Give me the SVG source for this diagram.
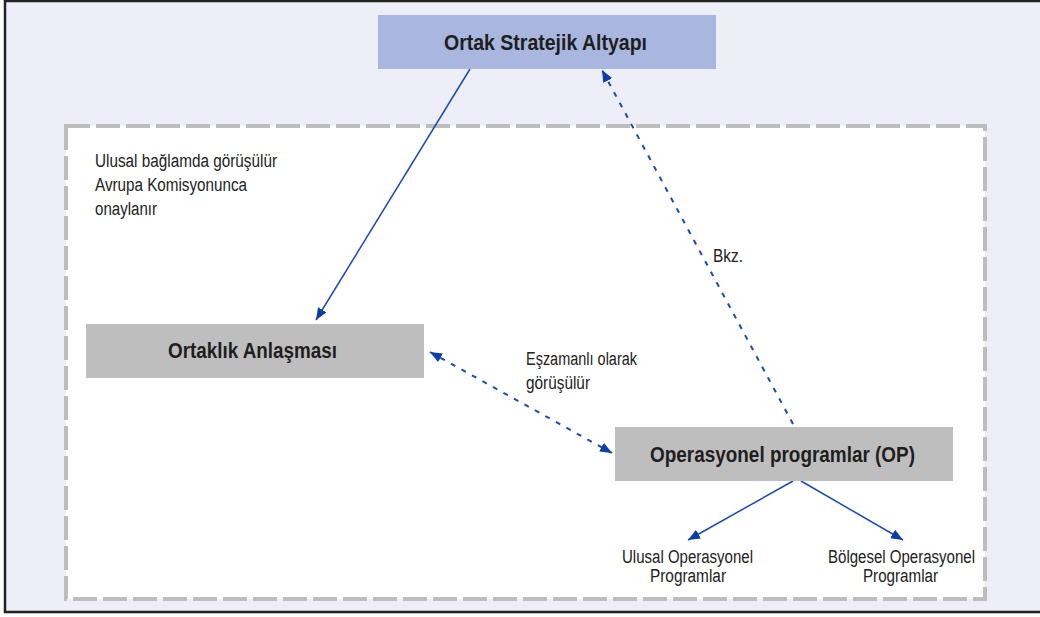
<svg xmlns="http://www.w3.org/2000/svg" width="1040" height="617" viewBox="0 0 1040 617">
  <style>
    .frame { fill: #EEEEF8; stroke: #222222; stroke-width: 2.5; }
    .zone { fill: #FFFFFF; stroke: #BDBDBD; stroke-width: 4; stroke-dasharray: 24 6; }
    .box-blue { fill: #A8B6E0; }
    .box-gray { fill: #BEBEBE; }
    .title { font-family: "Liberation Sans", Arial, sans-serif; font-weight: bold; font-size: 22px; fill: #1E1E1E; }
    .note { font-family: "Liberation Sans", Arial, sans-serif; font-size: 18px; fill: #222222; }
    .link { fill: none; stroke: #1A4BB0; stroke-width: 1.5; }
    .link-dash { fill: none; stroke: #1A4BB0; stroke-width: 2; stroke-dasharray: 5 7; }
  </style>
  <defs>
    <marker id="arrow" viewBox="0 0 12 10" refX="12" refY="5" markerWidth="12" markerHeight="10" markerUnits="userSpaceOnUse" orient="auto-start-reverse">
      <path d="M0,0 L12,5 L0,10 z" fill="#0B3EA6"/>
    </marker>
  </defs>

  <rect width="1040" height="617" fill="#FFFFFF"/>
  <rect class="frame" x="5" y="1" width="1040" height="611"/>
  <rect class="zone" x="66" y="126" width="919" height="473"/>

  <g id="connectors">
    <line class="link" x1="470" y1="69" x2="316" y2="320" marker-end="url(#arrow)"/>
    <line class="link-dash" x1="793" y1="424" x2="602" y2="70" marker-end="url(#arrow)"/>
    <line class="link-dash" x1="430" y1="352" x2="612" y2="453" marker-start="url(#arrow)" marker-end="url(#arrow)"/>
    <line class="link" x1="793" y1="481" x2="688" y2="540" marker-end="url(#arrow)"/>
    <line class="link" x1="801" y1="481" x2="903" y2="540" marker-end="url(#arrow)"/>
  </g>

  <g id="node-strategy">
    <rect class="box-blue" x="378" y="15" width="338" height="54"/>
    <text class="title" x="444" y="50" textLength="203" lengthAdjust="spacingAndGlyphs">Ortak Stratejik Altyapı</text>
  </g>

  <g id="node-agreement">
    <rect class="box-gray" x="86" y="324" width="338" height="54"/>
    <text class="title" x="168" y="358" textLength="169" lengthAdjust="spacingAndGlyphs">Ortaklık Anlaşması</text>
  </g>

  <g id="node-op">
    <rect class="box-gray" x="615" y="427" width="338" height="54"/>
    <text class="title" x="650" y="462" textLength="265" lengthAdjust="spacingAndGlyphs">Operasyonel programlar (OP)</text>
  </g>

  <g id="note-national">
    <text class="note" x="95" y="167" textLength="182" lengthAdjust="spacingAndGlyphs">Ulusal bağlamda görüşülür</text>
    <text class="note" x="95" y="191" textLength="152" lengthAdjust="spacingAndGlyphs">Avrupa Komisyonunca</text>
    <text class="note" x="95" y="215" textLength="62" lengthAdjust="spacingAndGlyphs">onaylanır</text>
  </g>

  <g id="note-simultaneous">
    <text class="note" x="526" y="365" textLength="111" lengthAdjust="spacingAndGlyphs">Eşzamanlı olarak</text>
    <text class="note" x="526" y="389" textLength="64" lengthAdjust="spacingAndGlyphs">görüşülür</text>
  </g>

  <g id="note-see">
    <text class="note" x="713" y="262" textLength="30" lengthAdjust="spacingAndGlyphs">Bkz.</text>
  </g>

  <g id="node-national-op">
    <text class="note" x="622" y="563" textLength="131" lengthAdjust="spacingAndGlyphs">Ulusal Operasyonel</text>
    <text class="note" x="650" y="582" textLength="76" lengthAdjust="spacingAndGlyphs">Programlar</text>
  </g>

  <g id="node-regional-op">
    <text class="note" x="828" y="563" textLength="147" lengthAdjust="spacingAndGlyphs">Bölgesel Operasyonel</text>
    <text class="note" x="863" y="582" textLength="75" lengthAdjust="spacingAndGlyphs">Programlar</text>
  </g>
</svg>
